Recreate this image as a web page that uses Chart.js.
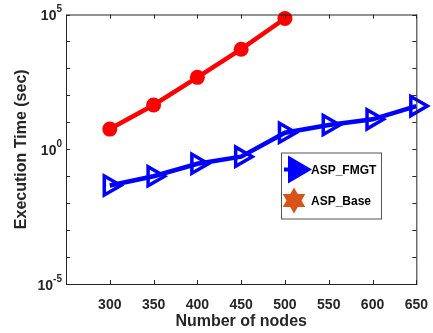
<!DOCTYPE html>
<html>
<head>
<meta charset="utf-8">
<script src="https://cdn.jsdelivr.net/npm/chart.js@4"></script>
<style>
  html, body { margin: 0; padding: 0; background: #fff; }
  #wrap { width: 433px; height: 333px; }
</style>
</head>
<body>
<div id="wrap"><canvas id="timeChart" width="433" height="333"></canvas></div>
<script>
const nodesFmgt = [300, 350, 400, 450, 500, 550, 600, 650];
const timeFmgt = [0.045, 0.10, 0.29, 0.53, 4.1, 7.9, 12.9, 40];
const nodesBase = [300, 350, 400, 450, 500];
const timeBase = [5.6, 44, 465, 5150, 71000];
const xTicks = [300, 350, 400, 450, 500, 550, 600, 650];
const yTicks = [1e-5, 1e-4, 1e-3, 1e-2, 1e-1, 1, 10, 100, 1e3, 1e4, 1e5];
const yLabels = [[1e-5, '-5'], [1, '0'], [1e5, '5']];

const ink = '#262626';
const FONT = '"Liberation Sans", Arial, sans-serif';

// box around the plot with inward ticks on all four sides
const framePlugin = {
  id: 'frame',
  afterDraw(chart) {
    const { ctx, chartArea: a, scales } = chart;
    ctx.save();
    ctx.strokeStyle = ink;
    ctx.lineWidth = 1;
    ctx.strokeRect(a.left + 0.5, a.top + 0.5, a.right - a.left, a.bottom - a.top);
    ctx.beginPath();
    xTicks.forEach(v => {
      const x = Math.round(scales.x.getPixelForValue(v)) + 0.5;
      ctx.moveTo(x, a.bottom); ctx.lineTo(x, a.bottom - 4);
      ctx.moveTo(x, a.top); ctx.lineTo(x, a.top + 4);
    });
    yTicks.forEach(v => {
      const y = Math.round(scales.y.getPixelForValue(v)) + 0.5;
      ctx.moveTo(a.left, y); ctx.lineTo(a.left + 4, y);
      ctx.moveTo(a.right, y); ctx.lineTo(a.right - 4, y);
    });
    ctx.stroke();

    // 10^n labels with superscripts
    ctx.fillStyle = ink;
    ctx.textBaseline = 'middle';
    yLabels.forEach(([v, exp]) => {
      const y = scales.y.getPixelForValue(v) + 1;
      const right = a.left - 4;
      ctx.font = 'bold 10px ' + FONT;
      const ew = ctx.measureText(exp).width;
      ctx.textAlign = 'right';
      ctx.fillText(exp, right, y - 6);
      ctx.font = 'bold 14px ' + FONT;
      ctx.fillText('10', right - ew, y + 1);
    });
    ctx.restore();
  }
};

// hexagram marker used in the legend
function drawHexagram(ctx, cx, cy, r) {
  ctx.beginPath();
  for (let k = 0; k < 12; k++) {
    const ang = -Math.PI / 2 + k * Math.PI / 6;
    const rad = k % 2 === 0 ? r : r * 0.58;
    const px = cx + rad * Math.cos(ang), py = cy + rad * Math.sin(ang);
    if (k === 0) ctx.moveTo(px, py); else ctx.lineTo(px, py);
  }
  ctx.closePath();
  ctx.fill();
}

const legendPlugin = {
  id: 'boxLegend',
  afterDraw(chart) {
    const { ctx, chartArea: a } = chart;
    const bx = a.left + 215, by = a.top + 138, bw = 100, bh = 66;
    ctx.save();
    ctx.fillStyle = '#fff';
    ctx.fillRect(bx, by, bw, bh);
    ctx.strokeStyle = '#555';
    ctx.lineWidth = 1;
    ctx.strokeRect(bx + 0.5, by + 0.5, bw, bh);

    // ASP_FMGT entry
    const y1 = by + 17;
    ctx.strokeStyle = '#0000ff';
    ctx.lineWidth = 4;
    ctx.beginPath(); ctx.moveTo(bx + 3, y1); ctx.lineTo(bx + 18, y1); ctx.stroke();
    ctx.fillStyle = '#0000ff';
    ctx.beginPath();
    ctx.moveTo(bx + 7, y1 - 14);
    ctx.lineTo(bx + 31, y1);
    ctx.lineTo(bx + 7, y1 + 14);
    ctx.closePath();
    ctx.fill();

    // ASP_Base entry
    const y2 = by + 48;
    ctx.fillStyle = '#d95319';
    drawHexagram(ctx, bx + 13, y2, 13);

    ctx.fillStyle = '#000';
    ctx.font = 'bold 12px ' + FONT;
    ctx.textAlign = 'left';
    ctx.textBaseline = 'middle';
    ctx.fillText('ASP_FMGT', bx + 30, y1 + 1);
    ctx.fillText('ASP_Base', bx + 30, y2 + 1);
    ctx.restore();
  }
};

new Chart(document.getElementById('timeChart'), {
  type: 'line',
  data: {
    datasets: [
      {
        label: 'ASP_FMGT',
        data: nodesFmgt.map((x, i) => ({ x, y: timeFmgt[i] })),
        borderColor: '#0000ff',
        borderWidth: 4.5,
        pointStyle: 'triangle',
        rotation: 90,
        pointRadius: 11,
        pointBorderWidth: 3.5,
        pointBorderColor: '#0000ff',
        pointBackgroundColor: 'rgba(0,0,0,0)',
        clip: false
      },
      {
        label: 'ASP_Base',
        data: nodesBase.map((x, i) => ({ x, y: timeBase[i] })),
        borderColor: '#ff0000',
        borderWidth: 4.5,
        pointStyle: 'circle',
        pointRadius: 7.5,
        pointBorderWidth: 0,
        pointBackgroundColor: '#ff0000',
        clip: false
      }
    ]
  },
  options: {
    responsive: false,
    animation: false,
    layout: { padding: { left: 0, right: 15, top: 14, bottom: 0 } },
    plugins: { legend: { display: false }, tooltip: { enabled: false } },
    scales: {
      x: {
        type: 'linear',
        min: 250,
        max: 650,
        grid: { display: false },
        border: { display: false },
        afterBuildTicks: s => { s.ticks = xTicks.map(v => ({ value: v })); },
        afterFit: s => { s.height = 49; },
        ticks: { color: ink, font: { family: FONT, size: 14, weight: 'bold' }, padding: 5, maxRotation: 0 },
        title: { display: true, text: 'Number of nodes', color: ink, font: { family: FONT, size: 16, weight: 'bold' }, padding: { top: 0, bottom: 2 } }
      },
      y: {
        type: 'logarithmic',
        min: 1e-5,
        max: 1e5,
        grid: { display: false },
        border: { display: false },
        afterBuildTicks: s => { s.ticks = yTicks.map(v => ({ value: v })); },
        afterFit: s => { s.width = 66; },
        ticks: { display: false },
        title: { display: true, text: 'Execution Time (sec)', color: ink, font: { family: FONT, size: 16, weight: 'bold' }, padding: { top: 12, bottom: 0 } }
      }
    }
  },
  plugins: [framePlugin, legendPlugin]
});
</script>
</body>
</html>
